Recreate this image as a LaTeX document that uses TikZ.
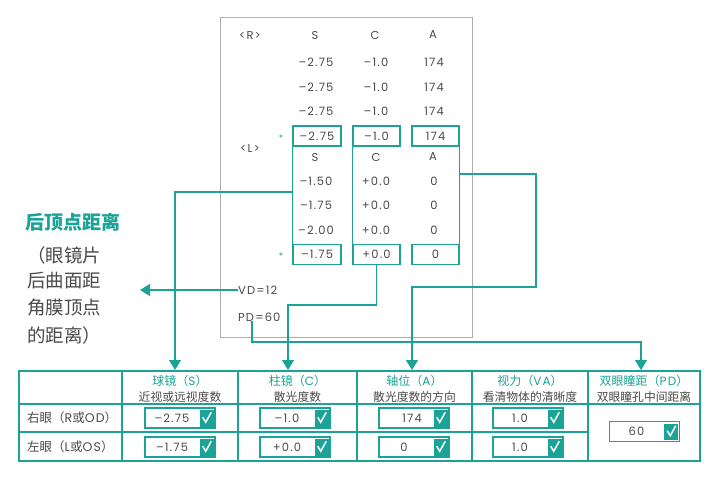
\documentclass[tikz,border=0pt]{standalone}
\usepackage{fontspec}
\setmainfont{Poppins}[LetterSpace=10]
\newfontfamily\cjk{Noto Sans CJK SC}
\usetikzlibrary{arrows.meta}
\definecolor{teal1}{HTML}{1AA396}
\definecolor{txt}{HTML}{4A4A4A}
\definecolor{boxgray}{HTML}{ADADAD}
\newcommand\zh[1]{{\cjk #1}}
\newcommand\mychk[1]{%
  \fill[teal1] ([xshift=-16pt,yshift=-3pt]#1.north east) rectangle ([xshift=-2pt,yshift=2pt]#1.south east);
  \draw[white,line width=1.5pt] ([xshift=-13pt,yshift=-10pt]#1.north east) -- ([xshift=-10pt,yshift=-15pt]#1.north east) -- ([xshift=-4.5pt,yshift=-5pt]#1.north east);}
\begin{document}
\begin{tikzpicture}[x=1pt,y=-1pt,
  conn/.style={draw=teal1,line width=1.3pt},
  arr/.style={conn,-{Triangle[width=12pt,length=10pt]}},
  gtxt/.style={text=txt,font=\fontsize{11.5}{13}\selectfont,inner sep=0pt},
  selbox/.style={draw=teal1,line width=1.3pt,minimum width=48pt,minimum height=20pt,inner sep=0pt,text=txt,font=\fontsize{11.5}{13}\selectfont},
  valbox/.style={draw=teal1,line width=1.5pt,minimum width=70pt,minimum height=20pt,inner sep=0pt},
  vtxt/.style={text=txt,font=\fontsize{11.5}{13}\selectfont,inner sep=0pt},
  tline/.style={draw=teal1,line width=1.5pt},
  htitle/.style={text=teal1,font=\fontsize{12}{14}\selectfont,inner sep=0pt},
  hsub/.style={text=txt,font=\cjk\fontsize{11.8}{14}\selectfont,inner sep=0pt},
  rowlab/.style={text=txt,font=\fontsize{12.5}{14}\selectfont,inner sep=0pt,anchor=west},
  side/.style={text=txt,font=\cjk\fontsize{18.5}{20}\selectfont,inner sep=0pt,anchor=west},
  star/.style={text=teal1,font=\fontsize{9}{9}\selectfont,inner sep=0pt}
]
\useasboundingbox (0,0) rectangle (718,479);
\fill[white] (0,0) rectangle (718,479);

% panel
\node[draw=boxgray,line width=1.3pt,minimum width=252pt,minimum height=320pt,anchor=north west,inner sep=0pt] (panel) at (220,17) {};

% R block
\node[gtxt] (rlab) at (250,35) {<R>};
\node[gtxt] (rSh) at (315,35) {S};
\node[gtxt] (rCh) at (375,35) {C};
\node[gtxt] (rAh) at (433,35) {A};
\node[gtxt] (r1s) at (316,62) {–2.75};
\node[gtxt] (r1c) at (376,62) {–1.0};
\node[gtxt] (r1a) at (434,62) {174};
\node[gtxt] (r2s) at (316,87) {–2.75};
\node[gtxt] (r2c) at (376,87) {–1.0};
\node[gtxt] (r2a) at (434,87) {174};
\node[gtxt] (r3s) at (316,111) {–2.75};
\node[gtxt] (r3c) at (376,111) {–1.0};
\node[gtxt] (r3a) at (434,111) {174};
\node[star] (st1) at (281,138) {*};
\node[selbox] (rS) at (317,136) {–2.75};
\node[selbox,minimum width=47pt] (rC) at (376.5,136) {–1.0};
\node[selbox,minimum width=47pt] (rA) at (435.5,136) {174};

% L block
\node[gtxt] (llab) at (250,148) {<L>};
\node[gtxt] (lSh) at (315,157) {S};
\node[gtxt] (lCh) at (376,157) {C};
\node[gtxt] (lAh) at (433,157) {A};
\node[gtxt] (l1s) at (316,181) {–1.50};
\node[gtxt] (l1c) at (376,181) {+0.0};
\node[gtxt] (l1a) at (434,181) {0};
\node[gtxt] (l2s) at (316,205) {–1.75};
\node[gtxt] (l2c) at (376,205) {+0.0};
\node[gtxt] (l2a) at (434,205) {0};
\node[gtxt] (l3s) at (316,230) {–2.00};
\node[gtxt] (l3c) at (376,230) {+0.0};
\node[gtxt] (l3a) at (434,230) {0};
\node[star] (st2) at (281,256) {*};
\node[selbox] (lS) at (317,254.5) {–1.75};
\node[selbox,minimum width=47pt] (lC) at (376.5,254.5) {+0.0};
\node[selbox,minimum width=47pt] (lA) at (435.5,254.5) {0};

\draw[conn] (rS.south west) -- (lS.north west);
\draw[conn] (rC.south west) -- (lC.north west);
\draw[conn] (rA.south east) -- (lA.north east);

\node[gtxt,anchor=west] (vd) at (238,290) {VD=12};
\node[gtxt,anchor=west] (pd) at (238,317) {PD=60};

% side text
\node[side,text=teal1,font=\cjk\bfseries\fontsize{19}{22}\selectfont] (sideT) at (25,222) {后顶点距离};
\node[side] (side1) at (27,255) {（眼镜片};
\node[side] (side2) at (27,281) {后曲面距};
\node[side] (side3) at (27,308) {角膜顶点};
\node[side] (side4) at (27,335) {的距离）};

% table
\draw[tline] (19,371) rectangle (700,461);
\draw[tline] (19,404) -- (700,404);
\draw[tline] (19,432) -- (588,432);
\foreach \xx in {122,238,357,472,588} \draw[tline] (\xx,371) -- (\xx,461);

\node[htitle] (hS) at (180,381) {\zh{球镜（}S\zh{）}};
\node[hsub] (hSs) at (180,397) {近视或远视度数};
\node[htitle] (hC) at (297.5,381) {\zh{柱镜（}C\zh{）}};
\node[hsub] (hCs) at (297.5,397) {散光度数};
\node[htitle] (hA) at (414.5,381) {\zh{轴位（}A\zh{）}};
\node[hsub] (hAs) at (414.5,397) {散光度数的方向};
\node[htitle] (hV) at (530,381) {\zh{视力（}VA\zh{）}};
\node[hsub] (hVs) at (530,397) {看清物体的清晰度};
\node[htitle] (hP) at (644,381) {\zh{双眼瞳距（}PD\zh{）}};
\node[hsub] (hPs) at (644,397) {双眼瞳孔中间距离};

\node[rowlab] (rowR) at (27,418) {\zh{右眼（}R\zh{或}OD\zh{）}};
\node[rowlab] (rowL) at (27,447) {\zh{左眼（}L\zh{或}OS\zh{）}};

% value boxes
\node[valbox] (vS1) at (180,418) {};
\node[valbox] (vS2) at (180,447) {};
\node[valbox] (vC1) at (295,418) {};
\node[valbox] (vC2) at (295,447) {};
\node[valbox] (vA1) at (414,418) {};
\node[valbox] (vA2) at (414,447) {};
\node[valbox] (vV1) at (528,418) {};
\node[valbox] (vV2) at (528,447) {};
\node[valbox] (vP) at (644.5,431.5) {};
\node[vtxt] (tS1) at ([xshift=-8pt]vS1.center) {–2.75};
\node[vtxt] (tS2) at ([xshift=-8pt]vS2.center) {–1.75};
\node[vtxt] (tC1) at ([xshift=-8pt]vC1.center) {–1.0};
\node[vtxt] (tC2) at ([xshift=-8pt]vC2.center) {+0.0};
\node[vtxt] (tA1) at ([xshift=-2pt]vA1.center) {174};
\node[vtxt] (tA2) at ([xshift=-10pt]vA2.center) {0};
\node[vtxt] (tV1) at ([xshift=-8pt]vV1.center) {1.0};
\node[vtxt] (tV2) at ([xshift=-8pt]vV2.center) {1.0};
\node[vtxt] (tP) at ([xshift=-8pt]vP.center) {60};
\mychk{vS1}\mychk{vS2}\mychk{vC1}\mychk{vC2}\mychk{vA1}\mychk{vA2}\mychk{vV1}\mychk{vV2}\mychk{vP}

% connectors
\coordinate (sJ) at (293,192);
\coordinate (aS) at (175,370);
\draw[arr] (sJ) -| (aS);

\coordinate (cK) at (288,305);
\coordinate (aC) at (288,370);
\draw[arr] (lC.south) |- (cK) -- (aC);

\coordinate (aJ) at (459,174);
\coordinate (aK1) at (536,287);
\coordinate (aK2) at (412,287);
\coordinate (aA) at (412,370);
\draw[arr] (aJ) -| (aK1) -- (aK2) -- (aA);

\coordinate (vdT) at (140,290);
\draw[arr] (vd.west) -- (vdT);

\coordinate (pdS) at (252,321);
\coordinate (pdK) at (641,342);
\coordinate (aP) at (641,370);
\draw[arr] (pdS) |- (pdK) -- (aP);
\end{tikzpicture}
\end{document}
